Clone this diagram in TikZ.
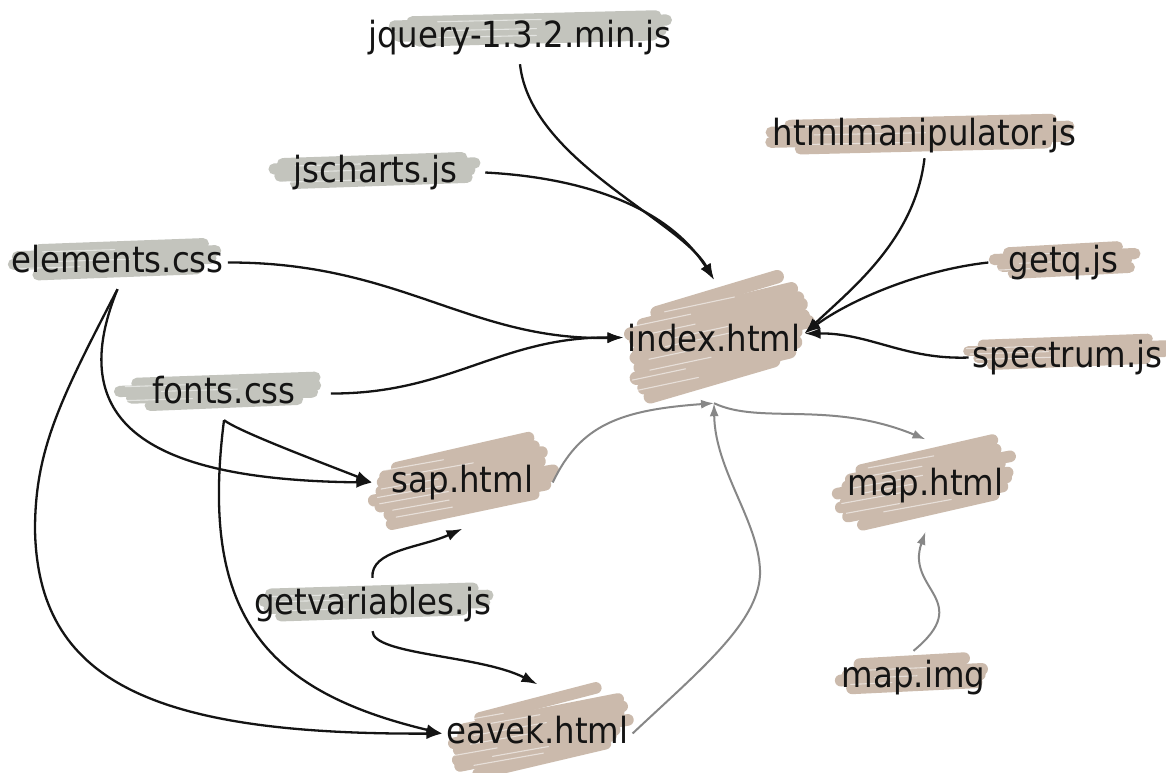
\documentclass[tikz,border=0pt]{standalone}
\usepackage{fontspec}
\setmainfont{DejaVu Sans Condensed}
\usetikzlibrary{arrows.meta}
\pgfdeclarelayer{background}
\pgfsetlayers{background,main}

\definecolor{ashband}{HTML}{C3C4BD}
\definecolor{sandband}{HTML}{CBBAAC}
\definecolor{linkgray}{HTML}{878787}
\definecolor{ink}{HTML}{141414}

% Hand-drawn marker patch behind a label:
% #1 colour, #2 node, #3 width, #4 height, #5 strokes, #6 rise, #7 offset
\newcommand\scrib[7]{%
  \begin{scope}[shift={(#2.center)}, shift={#7}]
    \foreach \k in {1,...,#5}{%
      \pgfmathsetmacro\yy{-#4/2 + (\k-0.5)*#4/#5 + 2*rand}%
      \pgfmathsetmacro\ff{1-0.3*(2*\yy/#4)*(2*\yy/#4)}%
      \pgfmathsetmacro\xa{-#3/2*\ff + 7*rand}%
      \pgfmathsetmacro\xb{#3/2*\ff + 7*rand}%
      \pgfmathsetmacro\lw{1.5*#4/#5}%
      \draw[#1, line width=\lw pt, line cap=round]
        (\xa,\yy+#6/2) -- (\xb,\yy-#6/2);
    }
    % thin light streaks left by the marker
    \foreach \k in {2,...,#5}{%
      \pgfmathsetmacro\yy{-#4/2 + (\k-1)*#4/#5 + 1.5*rand}%
      \pgfmathsetmacro\xa{-#3/2*0.8 + 25*rand}%
      \pgfmathsetmacro\xb{\xa + #3*0.35 + 15*rand}%
      \pgfmathsetmacro\ya{\yy + #6/2 - #6*(\xa/#3 + 0.5)}%
      \pgfmathsetmacro\yb{\yy + #6/2 - #6*(\xb/#3 + 0.5)}%
      \draw[white, line width=1.1pt, opacity=.55, line cap=round]
        (\xa,\ya) -- (\xb,\yb);
    }
  \end{scope}}

\tikzset{
  lbl/.style={inner xsep=4pt, inner ysep=9pt, text height=27pt, text depth=8pt,
    text=ink, font=\fontsize{36}{40}\selectfont},
  pagebox/.style 2 args={lbl, minimum width=#1, minimum height=#2},
  dep/.style={draw=ink, line width=2.3pt, -{Latex[length=16pt,width=11pt]}},
  link/.style={draw=linkgray, line width=2pt, -{Latex[length=13pt,width=9pt]}},
}

\begin{document}
\begin{tikzpicture}[x=1pt, y=-1pt]
\pgfmathsetseed{12}
\useasboundingbox (0,0) rectangle (1166,772);

% files
\node[lbl] (jquery)   at (520,37.5)    {jquery-1.3.2.min.js};
\node[lbl] (jscharts) at (375.5,172.5) {jscharts.js};
\node[lbl] (manip)    at (924.5,135.5) {htmlmanipulator.js};
\node[lbl] (getq)     at (1063.5,262.5){getq.js};
\node[lbl] (spectrum) at (1067.5,357.5){spectrum.js};
\node[lbl] (elements) at (117.5,262.5) {elements.css};
\node[lbl] (fonts)    at (224,393.5)   {fonts.css};
\node[lbl] (getvars)  at (372.5,604.5) {getvariables.js};
\node[lbl] (mapimg)   at (913.5,677.5) {map.img};
\node[pagebox={180pt}{123pt}] (index) at (714,341.5) {index.html};
\node[pagebox={180pt}{92pt}]  (sap)   at (462.5,482.5) {sap.html};
\node[pagebox={176pt}{92pt}]  (map)   at (925.5,485.5) {map.html};
\node[pagebox={184pt}{86pt}]  (eavek) at (537.5,733.5) {eavek.html};

% marker patches
\begin{pgfonlayer}{background}
  \fill[white] (0,0) rectangle (1166,772);
  \begin{scope}
  \clip (0,0) rectangle (1166,772);
  \scrib{sandband}{index}{170}{90}{10}{36}{(3,-5)}
  \scrib{sandband}{sap}{168}{64}{8}{30}{(0.5,-1.5)}
  \scrib{sandband}{map}{164}{62}{8}{30}{(-0.5,-3.5)}
  \scrib{sandband}{eavek}{170}{62}{8}{30}{(1,-2)}
  \scrib{ashband}{jquery}{270}{30}{4}{6}{(11,-9)}
  \scrib{ashband}{jscharts}{198}{30}{4}{6}{(0,-2)}
  \scrib{ashband}{elements}{198}{30}{4}{6}{(0,-4)}
  \scrib{ashband}{fonts}{196}{30}{4}{6}{(0,-3)}
  \scrib{ashband}{getvars}{223}{30}{4}{6}{(2,-4)}
  \scrib{sandband}{manip}{308}{30}{4}{6}{(-3,-2)}
  \scrib{sandband}{getq}{133}{30}{4}{6}{(2,-2)}
  \scrib{sandband}{spectrum}{192}{26}{4}{6}{(0,-6)}
  \scrib{sandband}{mapimg}{136}{32}{4}{6}{(0,-2.5)}
  \end{scope}
\end{pgfonlayer}

% dependencies of index.html
\draw[dep] (jquery.south) .. controls (530,160) and (680,220) .. (index.north);
\draw[dep] ([xshift=24pt]jscharts.east) .. controls (590,178) and (670,210) .. (index.north);
\draw[dep] (elements.east) .. controls (400,262) and (470,341) .. ([yshift=4pt]index.west);
\draw[dep] ([xshift=31pt]fonts.east) .. controls (450,394) and (500,337) .. ([yshift=4pt]index.west);
\draw[dep] ([yshift=4pt]manip.south) .. controls (915,240) and (850,290) .. ([yshift=8pt]index.east);
\draw[dep] ([xshift=-16pt]getq.west) .. controls (920,270) and (850,300) .. ([yshift=8pt]index.east);
\draw[dep] (spectrum.west) .. controls (905,360) and (870,333) .. ([yshift=8pt]index.east);

% dependencies of sap.html and eavek.html
\draw[dep] (elements.south) .. controls (60,430) and (160,480) .. (sap.west);
\draw[dep] (fonts.south) .. controls (240,432) and (320,462) .. (sap.west);
\draw[dep] (fonts.south) .. controls (200,610) and (260,690) .. (eavek.west);
\draw[dep] (elements.south) .. controls (60,400) and (35,450) .. (35,530)
                            .. controls (38,680) and (150,735) .. (eavek.west);
\draw[dep] (getvars.north) .. controls (370,550) and (420,548) .. (sap.south);
\draw[dep] (getvars.south) .. controls (373,655) and (480,655) .. ([yshift=6pt]eavek.north);

% page links
\draw[link] (sap.east) .. controls (580,425) and (620,410) .. (index.south);
\draw[link] (eavek.east) .. controls (700,670) and (762,620) .. (760,570)
                         .. controls (758,520) and (715,470) .. (index.south);
\draw[link] (index.south) .. controls (760,425) and (830,400) .. (map.north);
\draw[link] (mapimg.north) .. controls (975,600) and (905,590) .. (map.south);
\end{tikzpicture}
\end{document}
